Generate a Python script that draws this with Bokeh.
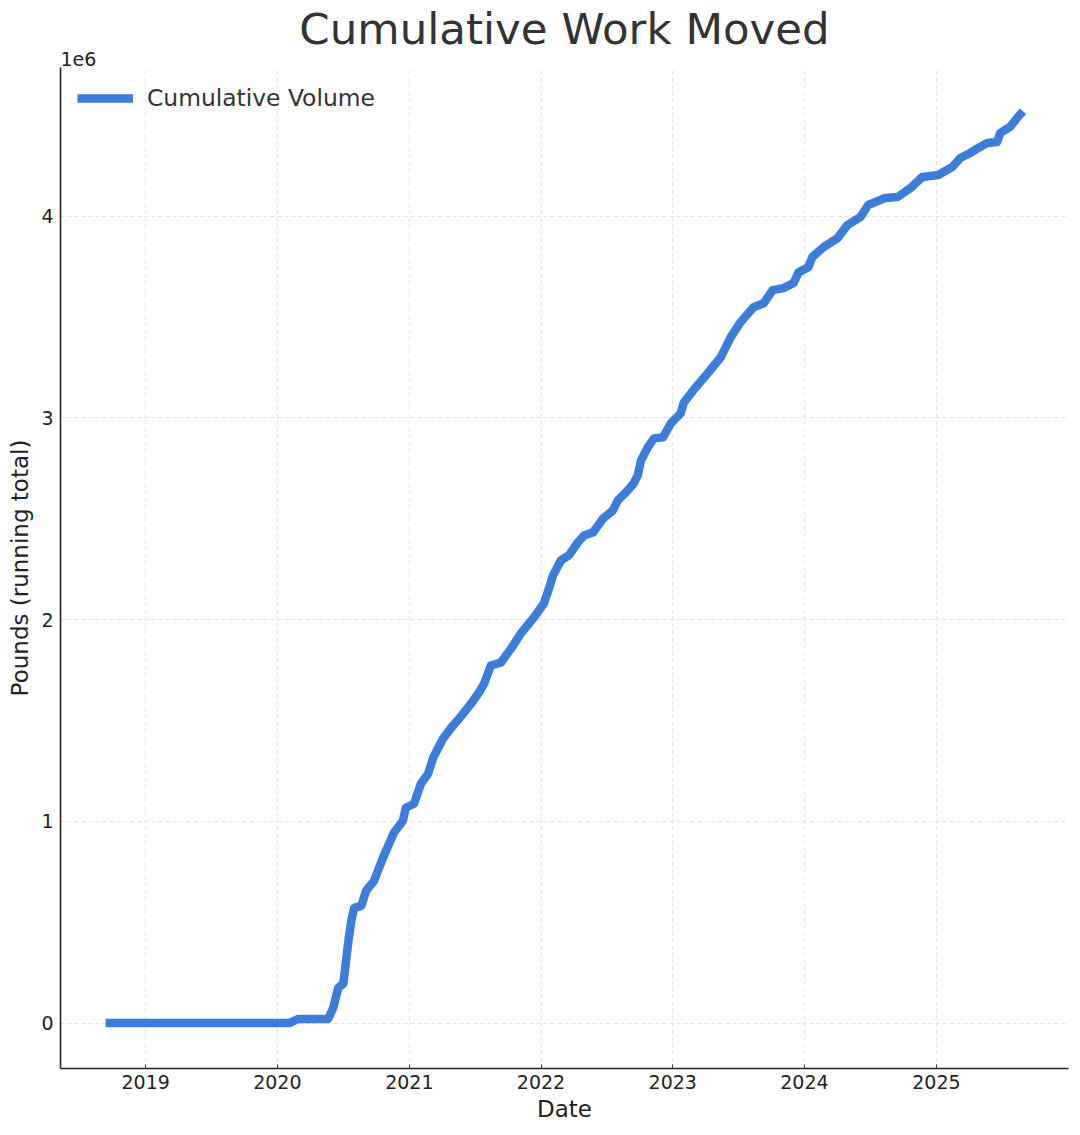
import pandas as pd
from bokeh.plotting import figure
from bokeh.models import (FixedTicker, CustomJSTickFormatter, DatetimeTickFormatter,
                          Range1d, Title, Legend, LegendItem, ColumnDataSource)
from bokeh.embed import file_html
from bokeh.resources import INLINE

# ---- data ----
dates = [
    "2018-09-12", "2020-02-03", "2020-02-28", "2020-05-21", "2020-06-04", "2020-06-18",
    "2020-07-02", "2020-07-16", "2020-07-24", "2020-08-01", "2020-08-21", "2020-09-03",
    "2020-09-25", "2020-10-20", "2020-11-19", "2020-12-14", "2020-12-22", "2021-01-14",
    "2021-02-02", "2021-02-22", "2021-03-08", "2021-04-04", "2021-04-27", "2021-05-19",
    "2021-06-21", "2021-07-13", "2021-07-27", "2021-08-15", "2021-09-12", "2021-10-10",
    "2021-11-06", "2021-12-12", "2022-01-09", "2022-01-23", "2022-02-03", "2022-02-25",
    "2022-03-19", "2022-04-13", "2022-04-30", "2022-05-25", "2022-06-22", "2022-07-19",
    "2022-08-02", "2022-08-24", "2022-09-15", "2022-09-26", "2022-10-05", "2022-10-24",
    "2022-11-10", "2022-12-05", "2022-12-27", "2023-01-23", "2023-02-01", "2023-03-06",
    "2023-04-08", "2023-05-14", "2023-06-11", "2023-07-08", "2023-08-13", "2023-09-10",
    "2023-10-05", "2023-11-04", "2023-12-02", "2023-12-16", "2024-01-12", "2024-01-23",
    "2024-02-23", "2024-04-02", "2024-04-29", "2024-06-04", "2024-06-26", "2024-08-12",
    "2024-09-15", "2024-10-21", "2024-11-23", "2025-01-06", "2025-02-14", "2025-03-08",
    "2025-04-05", "2025-04-27", "2025-05-22", "2025-06-18", "2025-06-27", "2025-07-24",
    "2025-08-13", "2025-08-29",
]
pounds = [
    0, 0, 20000, 20000, 75000, 175000,
    195000, 407000, 506000, 571000, 581000, 655000,
    705000, 819000, 943000, 1002000, 1067000, 1087000,
    1186000, 1236000, 1315000, 1409000, 1464000, 1509000,
    1583000, 1638000, 1682000, 1772000, 1787000, 1856000,
    1931000, 2010000, 2080000, 2154000, 2218000, 2293000,
    2318000, 2382000, 2417000, 2432000, 2501000, 2541000,
    2591000, 2630000, 2675000, 2715000, 2789000, 2854000,
    2898000, 2903000, 2973000, 3022000, 3077000, 3152000,
    3221000, 3300000, 3400000, 3474000, 3548000, 3568000,
    3633000, 3643000, 3668000, 3722000, 3747000, 3797000,
    3846000, 3891000, 3955000, 3995000, 4055000, 4090000,
    4094000, 4139000, 4194000, 4204000, 4243000, 4288000,
    4313000, 4338000, 4362000, 4367000, 4412000, 4442000,
    4487000, 4520000,
]
year_ticks = [2019, 2020, 2021, 2022, 2023, 2024, 2025]
value_ticks = [0, 1_000_000, 2_000_000, 3_000_000, 4_000_000]

TITLE = "Cumulative Work Moved"
XLABEL = "Date"
YLABEL = "Pounds (running total)"
SERIES = "Cumulative Volume"
OFFSET_TEXT = "1e6"

LINE_COLOR = "#3b7dd8"
FONT = "DejaVu Sans"

src = ColumnDataSource(dict(date=pd.to_datetime(dates), pounds=pounds))

x_start_ms = pd.Timestamp("2018-05-10").value / 1e6
x_end_ms = pd.Timestamp("2026-01-02").value / 1e6
y_start, y_end = -225_500, 4_736_500

p = figure(width=1072, height=1127, x_axis_type="datetime",
           output_backend="svg", toolbar_location=None,
           x_range=Range1d(x_start_ms, x_end_ms), y_range=Range1d(y_start, y_end),
           min_border_left=60, min_border_right=4, min_border_top=67, min_border_bottom=59)

p.title.text = TITLE
p.title.align = "center"
p.title.text_font = FONT
p.title.text_font_size = "43.5px"
p.title.text_font_style = "normal"
p.title.text_color = "#333333"
try:
    p.title.standoff = -12
except Exception:
    p.title.standoff = 0

# offset text "1e6" (sits between the main title and the frame, left aligned)
p.add_layout(Title(text=OFFSET_TEXT, align="left", standoff=4, text_font=FONT,
                   text_font_size="19px", text_font_style="normal",
                   text_color="#222222"), "above")

p.outline_line_color = None
p.background_fill_color = "white"
p.border_fill_color = "white"

r = p.line("date", "pounds", source=src, line_color=LINE_COLOR, line_width=8.5,
           line_join="round", line_cap="butt")

# axes
xa = p.xaxis[0]
xa.ticker = FixedTicker(ticks=[pd.Timestamp(f"{y}-01-01").value / 1e6 for y in year_ticks])
xa.formatter = DatetimeTickFormatter(years="%Y", months="%Y", days="%Y")
ya = p.yaxis[0]
ya.ticker = FixedTicker(ticks=value_ticks)
ya.formatter = CustomJSTickFormatter(code="return (tick/1e6).toFixed(0);")

for ax in (xa, ya):
    ax.axis_line_color = "#222222"
    ax.axis_line_width = 1.6
    ax.major_tick_out = 0
    ax.minor_tick_in = 0
    ax.minor_tick_out = 0
    ax.major_label_text_font = FONT
    ax.major_label_text_font_size = "19px"
    ax.major_label_text_color = "#222222"
    ax.axis_label_text_font = FONT
    ax.axis_label_text_font_size = "23px"
    ax.axis_label_text_font_style = "normal"
    ax.axis_label_text_color = "#222222"

xa.axis_label = XLABEL
xa.major_tick_in = 4
xa.major_tick_line_color = "#333333"
xa.major_label_standoff = 6
xa.axis_label_standoff = 4
ya.axis_label = YLABEL
ya.major_tick_in = 0
ya.major_tick_line_color = None
ya.major_label_standoff = 7
ya.axis_label_standoff = 5

for g in (p.xgrid[0], p.ygrid[0]):
    g.grid_line_color = "#e4e4e4"
    g.grid_line_dash = "4 3"
    g.grid_line_width = 1
p.xgrid[0].ticker = xa.ticker
p.ygrid[0].ticker = ya.ticker

legend = Legend(items=[LegendItem(label=SERIES, renderers=[r])],
                location="top_left", margin=17, padding=10,
                glyph_width=56, glyph_height=24, label_height=24,
                label_standoff=14, label_text_font=FONT, label_text_font_size="23.4px",
                label_text_color="#333333", border_line_color=None,
                background_fill_alpha=0)
p.add_layout(legend)

open("out.html", "w").write(file_html(p, INLINE))
